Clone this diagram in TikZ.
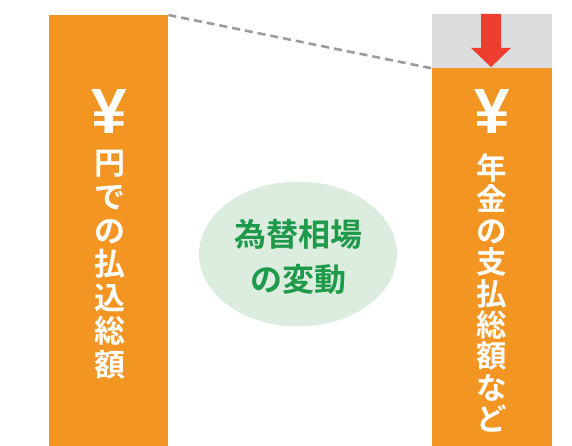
\documentclass[tikz,border=0pt]{standalone}
\usepackage{fontspec}
\newfontfamily\cjk{Noto Sans CJK JP}[BoldFont={Noto Sans CJK JP Bold}]
\newfontfamily\yenfont{Liberation Sans}
\usetikzlibrary{shapes.geometric}
\definecolor{barorange}{HTML}{F39523}
\definecolor{boxgray}{HTML}{DCDDDF}
\definecolor{arrowred}{HTML}{EE3E30}
\definecolor{ellfill}{HTML}{DCEDE0}
\definecolor{ellgreen}{HTML}{1E9A4A}
\definecolor{dashgray}{HTML}{9A9B9D}
\tikzset{
  bar/.style={fill=barorange, draw=none, rectangle, inner sep=0pt, anchor=north west},
  yen/.style={text=white, font=\yenfont\bfseries\fontsize{64}{64}\selectfont, inner sep=0pt, text height=46pt, text depth=0pt, anchor=base},
  vtext/.style={text=white, align=center, inner sep=0pt},
}
\begin{document}
\begin{tikzpicture}[x=1pt,y=-1pt]
\useasboundingbox (0,0) rectangle (572,446);
% left bar
\node[bar, minimum width=119pt, minimum height=431pt] (lbar) at (49,15) {};
% right gray box and bar
\node[rectangle, fill=boxgray, inner sep=0pt, anchor=north west, minimum width=120pt, minimum height=54pt] (gbox) at (432,14) {};
\node[bar, minimum width=120pt, minimum height=378pt] (rbar) at (432,68) {};
% dashed line
\draw[dashgray, line width=2.6pt, dash pattern=on 8pt off 5pt] (lbar.north east) -- (gbox.south west);
% red arrow
\fill[arrowred] (481,14) -- (501,14) -- (501,48) -- (511,48) -- (491,67) -- (471,48) -- (481,48) -- cycle;
% yen signs
\node[yen] (lyen) at (109.5,134) {¥};
\node[yen] (ryen) at (492,134) {¥};
% vertical texts
\node[vtext, font=\cjk\bfseries\fontsize{31}{33.6}\selectfont] (ltext) at (109.5,265) {円\\で\\の\\払\\込\\総\\額};
\node[vtext, font=\cjk\bfseries\fontsize{30.5}{31.4}\selectfont] (rtext) at (492,293) {年\\金\\の\\支\\払\\総\\額\\な\\ど};
% ellipse
\node[ellipse, fill=ellfill, draw=none, minimum width=198pt, minimum height=145pt] (ell) at (298,254) {};
\node[text=ellgreen, align=center, inner sep=0pt, font=\cjk\bfseries\fontsize{32}{45}\selectfont] (etext) at (298,257) {為替相場\\の変動};
\end{tikzpicture}
\end{document}
